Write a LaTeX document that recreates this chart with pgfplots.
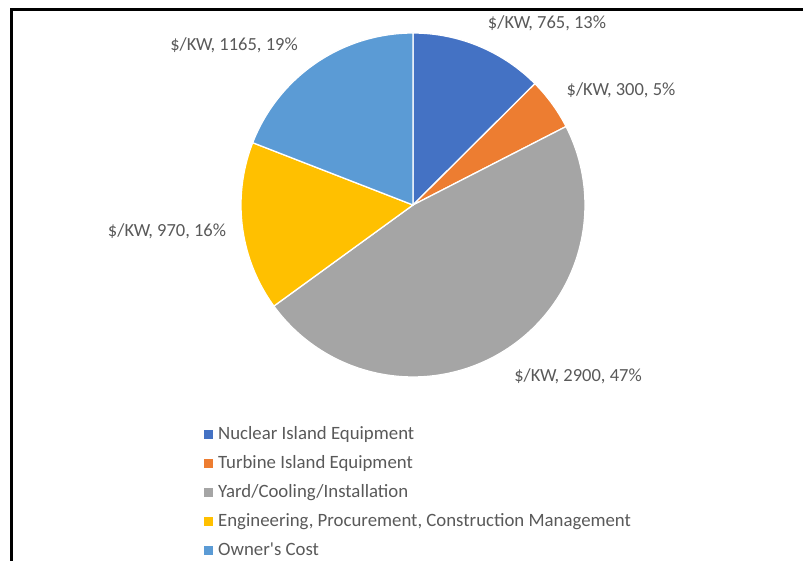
\documentclass[border=0pt]{standalone}
\usepackage{pgfplots}
\pgfplotsset{compat=1.18}
\usepackage{pgfplotstable}
\usepackage{fontspec}
\setmainfont{Carlito}
\definecolor{cA}{HTML}{4472C4}
\definecolor{cB}{HTML}{ED7D31}
\definecolor{cC}{HTML}{A5A5A5}
\definecolor{cD}{HTML}{FFC000}
\definecolor{cE}{HTML}{5B9BD5}
\definecolor{txt}{HTML}{595959}
\pgfplotstableread{
name value
Nuclear 765
Turbine 300
Yard 2900
Engineering 970
Owner 1165
}\piedata
\begin{document}
\begin{tikzpicture}
\pgfplotstablegetelem{0}{value}\of\piedata \let\vA\pgfplotsretval
\pgfplotstablegetelem{1}{value}\of\piedata \let\vB\pgfplotsretval
\pgfplotstablegetelem{2}{value}\of\piedata \let\vC\pgfplotsretval
\pgfplotstablegetelem{3}{value}\of\piedata \let\vD\pgfplotsretval
\pgfplotstablegetelem{4}{value}\of\piedata \let\vE\pgfplotsretval
\pgfmathsetmacro\tot{\vA+\vB+\vC+\vD+\vE}
\pgfmathsetmacro\aA{90}
\pgfmathsetmacro\aB{\aA-\vA/\tot*360}
\pgfmathsetmacro\aC{\aB-\vB/\tot*360}
\pgfmathsetmacro\aD{\aC-\vC/\tot*360}
\pgfmathsetmacro\aE{\aD-\vD/\tot*360}
\pgfmathsetmacro\aF{\aE-\vE/\tot*360}
\begin{axis}[
  width=803pt, height=561pt, scale only axis,
  xmin=0, xmax=803, ymin=0, ymax=561,
  hide axis, clip=false,
  samples=120,
  legend style={at={(axis cs:201,137)}, anchor=north west, draw=none, fill=none,
    font=\fontsize{18.8}{22}\selectfont, text=txt,
    nodes={inner sep=0pt, text height=13pt, text depth=4pt},
    row sep=12pt, column sep=5pt},
  legend cell align=left,
  legend image code/.code={\path[#1, draw=none] (0pt,-4.5pt) rectangle (9pt,4.5pt);},
  every axis plot/.append style={draw=white, line width=1.3pt},
]
\addplot[fill=cA, domain=\aB:\aA] ({413+172*cos(x)},{356+172*sin(x)}) -- (axis cs:413,356) -- cycle;
\addlegendentry{Nuclear Island Equipment}
\addplot[fill=cB, domain=\aC:\aB] ({413+172*cos(x)},{356+172*sin(x)}) -- (axis cs:413,356) -- cycle;
\addlegendentry{Turbine Island Equipment}
\addplot[fill=cC, domain=\aD:\aC] ({413+172*cos(x)},{356+172*sin(x)}) -- (axis cs:413,356) -- cycle;
\addlegendentry{Yard/Cooling/Installation}
\addplot[fill=cD, domain=\aE:\aD] ({413+172*cos(x)},{356+172*sin(x)}) -- (axis cs:413,356) -- cycle;
\addlegendentry{Engineering, Procurement, Construction Management}
\addplot[fill=cE, domain=\aF:\aE] ({413+172*cos(x)},{356+172*sin(x)}) -- (axis cs:413,356) -- cycle;
\addlegendentry{Owner\textquotesingle s Cost}
\begin{scope}[every node/.style={font=\fontsize{18.5}{22}\selectfont, text=txt, inner sep=0pt}]
\node at (axis cs:547,538) {\$/KW, 765, 13\%};
\node at (axis cs:621,471) {\$/KW, 300, 5\%};
\node at (axis cs:578,185) {\$/KW, 2900, 47\%};
\node at (axis cs:167,330) {\$/KW, 970, 16\%};
\node at (axis cs:234,516) {\$/KW, 1165, 19\%};
\end{scope}
\draw[black, line width=3pt] (axis cs:11,0) -- (axis cs:11,551) -- (axis cs:803,551);
\end{axis}
\pgfresetboundingbox
\path[use as bounding box] (current axis.south west) rectangle (current axis.north east);
\end{tikzpicture}
\end{document}
